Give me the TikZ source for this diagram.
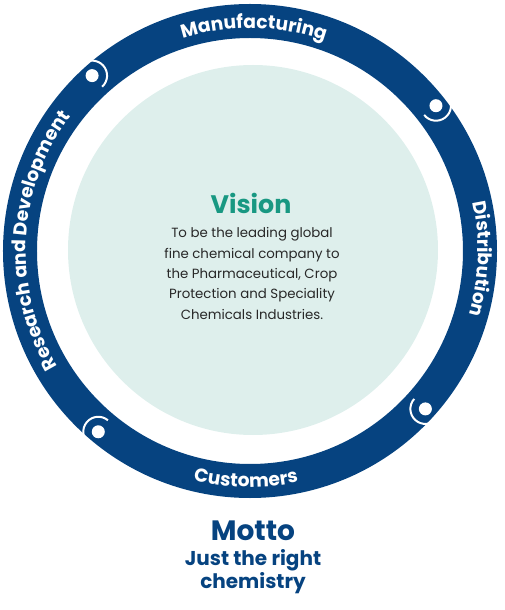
\documentclass[tikz,border=0pt]{standalone}
\usepackage{fontspec}
\setmainfont{Poppins}
\usepackage{tikz}
\usetikzlibrary{decorations.text}
\definecolor{ringblue}{RGB}{6,67,128}
\definecolor{visionteal}{RGB}{24,152,130}
\definecolor{innerfill}{RGB}{222,239,236}
\definecolor{bodygray}{RGB}{40,40,40}
\tikzset{every node/.append style={inner sep=0pt}}
\newcommand{\ringfont}{\fontsize{14pt}{16pt}\selectfont\bfseries}

\begin{document}
\begin{tikzpicture}[x=0.75pt, y=0.75pt,
    ringlabel/.style={decorate, decoration={text along path, text align=center,
        text={|\ringfont\color{white}|#1}}}]
    \useasboundingbox (-250,-359) rectangle (255,251);
    % ring and inner disc
    \fill[ringblue, even odd rule] (0,0) circle (247) (0,0) circle (213);
    \fill[innerfill] (3,1) circle (185);
    % joints between the ring segments
    \foreach \a [count=\i] in {132,38,-42,-130} {
        \coordinate (joint\i) at (\a:236);
        \draw[white, line width=1.5] (joint\i) ++({\a-180}:15) arc[start angle=\a-180, end angle=\a, radius=15];
        \fill[white] (joint\i) circle (6.5);
    }
    % ring labels
    \path[ringlabel=Manufacturing] (0,0) ++(139:223) arc[start angle=139, end angle=39, radius=223];
    \path[ringlabel=Distribution] (0,0) ++(48:228) arc[start angle=48, end angle=-52, radius=228];
    \path[ringlabel=Research and Development] (0,0) ++(257:224) arc[start angle=257, end angle=97, radius=224];
    \path[ringlabel=Customers] (0,0) ++(-141:236) arc[start angle=-141, end angle=-41, radius=236];
    % vision
    \node[anchor=base, font=\fontsize{19pt}{22pt}\selectfont\bfseries, text=visionteal] (vision) at (1,37) {Vision};
    \node[anchor=base, align=center, font=\fontsize{10pt}{15.2pt}\selectfont, text=bodygray] (visiontext) at (2,-68)
        {To be the leading global\\fine chemical company to\\the Pharmaceutical, Crop\\Protection and Speciality\\Chemicals Industries.};
    % motto
    \node[anchor=base, font=\fontsize{21pt}{24pt}\selectfont\bfseries, text=ringblue] (motto) at (3,-289) {Motto};
    \node[anchor=base, align=center, font=\fontsize{15pt}{15.75pt}\selectfont\bfseries, text=ringblue] (mottotext) at (3,-337)
        {Just the right\\chemistry};
\end{tikzpicture}
\end{document}
